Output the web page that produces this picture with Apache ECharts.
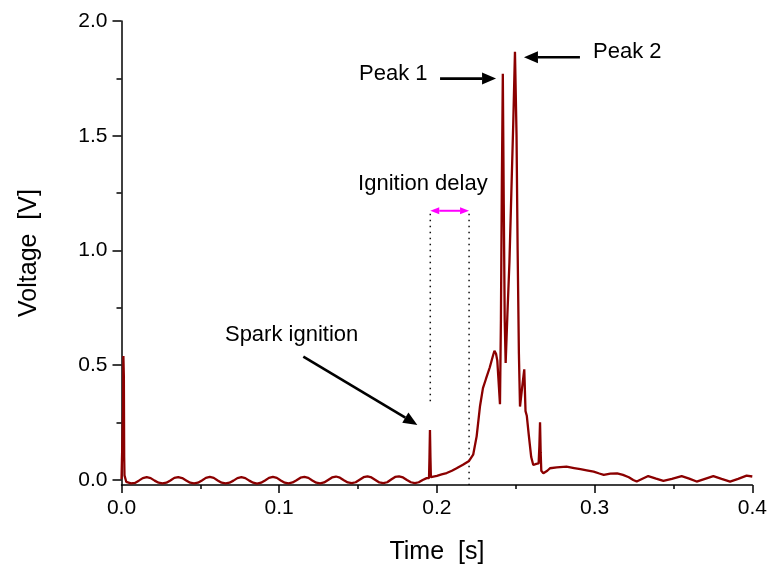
<!DOCTYPE html>
<html>
<head>
<meta charset="utf-8">
<script src="https://cdn.jsdelivr.net/npm/echarts@6/dist/echarts.min.js"></script>
<style>html,body{margin:0;padding:0;background:#fff;}#chart{width:768px;height:570px;}</style>
</head>
<body>
<div id="chart"></div>
<script>
// ---- data ----
const times = [
0.0000,0.0008,0.0010,0.0012,0.0015,0.0017,0.0019,0.0022,0.0030,0.0040,
0.0060,0.0085,0.0110,0.0135,0.0160,0.0185,0.0210,0.0235,0.0260,0.0285,
0.0310,0.0335,0.0360,0.0385,0.0410,0.0435,0.0460,0.0485,0.0510,0.0535,
0.0560,0.0585,0.0610,0.0635,0.0660,0.0685,0.0710,0.0735,0.0760,0.0785,
0.0810,0.0835,0.0860,0.0885,0.0910,0.0935,0.0960,0.0985,0.1010,0.1035,
0.1060,0.1085,0.1110,0.1135,0.1160,0.1185,0.1210,0.1235,0.1260,0.1285,
0.1310,0.1335,0.1360,0.1385,0.1410,0.1435,0.1460,0.1485,0.1510,0.1535,
0.1560,0.1585,0.1610,0.1635,0.1660,0.1685,0.1710,0.1735,0.1760,0.1785,
0.1810,0.1835,0.1860,0.1885,0.1910,0.1935,0.1950,0.1953,0.1956,0.1959,
0.1962,0.1970,0.2000,0.2030,0.2062,0.2095,0.2125,0.2165,0.2204,0.2230,
0.2252,0.2273,0.2292,0.2311,0.2335,0.2355,0.2365,0.2375,0.2383,0.2392,
0.2400,0.2406,0.2412,0.2418,0.2424,0.2430,0.2436,0.2447,0.2460,0.2472,
0.2484,0.2495,0.2505,0.2512,0.2520,0.2527,0.2540,0.2554,0.2562,0.2570,
0.2582,0.2598,0.2611,0.2630,0.2645,0.2650,0.2654,0.2658,0.2662,0.2675,
0.2700,0.2717,0.2760,0.2822,0.2870,0.2910,0.2950,0.2994,0.3030,0.3058,
0.3100,0.3143,0.3180,0.3217,0.3245,0.3267,0.3300,0.3340,0.3390,0.3436,
0.3490,0.3552,0.3600,0.3647,0.3700,0.3753,0.3805,0.3859,0.3910,0.3964,
0.4000];
const volts = [
0.003,0.005,0.300,0.540,0.450,0.100,0.020,0.015,-0.008,-0.014,
-0.015,-0.013,-0.003,0.008,0.012,0.008,-0.003,-0.012,-0.015,-0.012,
-0.002,0.009,0.012,0.008,-0.002,-0.012,-0.015,-0.012,-0.002,0.009,
0.013,0.009,-0.002,-0.012,-0.015,-0.012,-0.003,0.008,0.012,0.008,
-0.003,-0.012,-0.016,-0.012,-0.002,0.009,0.013,0.009,-0.002,-0.012,
-0.015,-0.011,-0.001,0.010,0.013,0.009,-0.002,-0.012,-0.015,-0.011,
0.000,0.011,0.015,0.010,-0.001,-0.011,-0.014,-0.010,0.001,0.012,
0.016,0.011,0.000,-0.011,-0.014,-0.010,0.002,0.013,0.016,0.011,
0.000,-0.010,-0.014,-0.010,0.000,0.008,0.008,0.100,0.218,0.100,
0.012,0.010,0.018,0.024,0.030,0.040,0.051,0.066,0.083,0.110,
0.190,0.320,0.400,0.440,0.490,0.540,0.563,0.550,0.520,0.420,
0.330,0.700,1.300,1.770,1.200,0.700,0.510,0.720,0.950,1.250,
1.550,1.866,1.500,1.000,0.550,0.320,0.400,0.482,0.300,0.280,
0.200,0.100,0.065,0.070,0.072,0.150,0.251,0.120,0.040,0.029,
0.040,0.051,0.055,0.058,0.052,0.047,0.042,0.036,0.028,0.022,
0.028,0.029,0.022,0.012,0.000,-0.007,0.004,0.017,0.006,-0.004,
0.005,0.017,0.006,-0.007,0.005,0.017,0.005,-0.007,0.005,0.019,
0.015];
const xTicks = [0.0, 0.1, 0.2, 0.3, 0.4];
const xMinorTicks = [0.05, 0.15, 0.25, 0.35];
const yTicks = [0.0, 0.5, 1.0, 1.5, 2.0];
const yMinorTicks = [0.25, 0.75, 1.25, 1.75];
const xTitle = 'Time  [s]';
const yTitle = 'Voltage  [V]';

// ---- annotations (data coordinates) ----
const annoTexts = [
  {text: 'Peak 1', at: [0.1506, 1.769]},
  {text: 'Peak 2', at: [0.2990, 1.865]},
  {text: 'Ignition delay', at: [0.1500, 1.290]},
  {text: 'Spark ignition', at: [0.0656, 0.632]}
];
const annoArrows = [
  {from: [0.2020, 1.749], to: [0.2375, 1.749]},
  {from: [0.2907, 1.842], to: [0.2552, 1.842]},
  {from: [0.1153, 0.537], to: [0.1876, 0.240]}
];
const delayBounds = [0.1958, 0.2204];
const delayArrowY = 1.173;
const delayLeftBottom = 0.335;

const FONT = '"Liberation Sans", Arial, sans-serif';
const chart = echarts.init(document.getElementById('chart'), null, {renderer: 'canvas'});
const data = times.map((t, i) => [t, volts[i]]);
const fmt = v => Number(v).toFixed(1);

chart.setOption({
  animation: false,
  backgroundColor: '#fff',
  grid: {left: 121.5, right: 15.7, top: 21, bottom: 85, containLabel: false, outerBoundsMode: 'none'},
  xAxis: [{
    type: 'value', min: 0, max: 0.4, interval: 0.1,
    name: xTitle, nameLocation: 'middle', nameGap: 55,
    nameTextStyle: {fontSize: 25, color: '#000', fontFamily: FONT},
    axisLine: {onZero: false, lineStyle: {color: '#000', width: 1.5}},
    axisTick: {length: 8, lineStyle: {color: '#000', width: 1.5}, customValues: xTicks},
    minorTick: {show: false},
    axisLabel: {fontSize: 21, color: '#000', fontFamily: FONT, margin: 13, formatter: fmt, customValues: xTicks},
    splitLine: {show: false}
  }, {
    type: 'value', min: 0, max: 0.4, position: 'bottom', offset: 0,
    axisLine: {show: false, onZero: false},
    axisTick: {length: 4, lineStyle: {color: '#000', width: 1.5}, customValues: xMinorTicks},
    axisLabel: {show: false}, splitLine: {show: false}
  }],
  yAxis: [{
    type: 'value', min: -0.022, max: 2.0, position: 'left',
    name: yTitle, nameLocation: 'middle', nameGap: 80,
    nameTextStyle: {fontSize: 25, color: '#000', fontFamily: FONT},
    axisLine: {onZero: false, lineStyle: {color: '#000', width: 1.5}},
    axisTick: {length: 9, lineStyle: {color: '#000', width: 1.5}, customValues: yTicks},
    axisLabel: {fontSize: 21, color: '#000', fontFamily: FONT, margin: 14, formatter: fmt, customValues: yTicks},
    splitLine: {show: false}
  }, {
    type: 'value', min: -0.022, max: 2.0, position: 'left', offset: 0,
    axisLine: {show: false},
    axisTick: {length: 5, lineStyle: {color: '#000', width: 1.5}, customValues: yMinorTicks},
    axisLabel: {show: false},
    splitLine: {show: false}
  }],
  series: [{
    type: 'line', data: data, xAxisIndex: 0, yAxisIndex: 0, showSymbol: false, symbol: 'none',
    lineStyle: {color: '#8B0000', width: 2.3}, itemStyle: {color: '#8B0000'},
    sampling: null, clip: false
  }, {
    type: 'line', data: [], xAxisIndex: 1, yAxisIndex: 1
  }]
});

function px(p) { return chart.convertToPixel({xAxisIndex: 0, yAxisIndex: 0}, p); }

function arrowGraphics(a, b, color, lw, headLen, headW, both) {
  const out = [];
  const dx = b[0] - a[0], dy = b[1] - a[1];
  const L = Math.sqrt(dx * dx + dy * dy);
  const ux = dx / L, uy = dy / L, nx = -uy, ny = ux;
  const s = both ? [a[0] + ux * headLen, a[1] + uy * headLen] : a;
  const e = [b[0] - ux * headLen, b[1] - uy * headLen];
  out.push({type: 'line', shape: {x1: s[0], y1: s[1], x2: e[0], y2: e[1]}, style: {stroke: color, lineWidth: lw}, silent: true});
  out.push({type: 'polygon', shape: {points: [[b[0], b[1]], [e[0] + nx * headW / 2, e[1] + ny * headW / 2], [e[0] - nx * headW / 2, e[1] - ny * headW / 2]]}, style: {fill: color}, silent: true});
  if (both) {
    out.push({type: 'polygon', shape: {points: [[a[0], a[1]], [s[0] + nx * headW / 2, s[1] + ny * headW / 2], [s[0] - nx * headW / 2, s[1] - ny * headW / 2]]}, style: {fill: color}, silent: true});
  }
  return out;
}

const g = [];
annoTexts.forEach(t => {
  const p = px(t.at);
  g.push({type: 'text', x: p[0], y: p[1], silent: true,
    style: {text: t.text, fill: '#000', font: '22px ' + FONT, textAlign: 'left', align: 'left', textVerticalAlign: 'middle', verticalAlign: 'middle'}});
});
annoArrows.forEach(a => {
  g.push(...arrowGraphics(px(a.from), px(a.to), '#000', 2.6, 14, 12, false));
});
// ignition delay dotted lines and magenta arrow
const pL1 = px([delayBounds[0], delayArrowY]), pL2 = px([delayBounds[0], delayLeftBottom]);
const pR1 = px([delayBounds[1], delayArrowY]), pR2 = px([delayBounds[1], -0.022]);
g.push({type: 'line', shape: {x1: pL1[0], y1: pL1[1] + 3, x2: pL2[0], y2: pL2[1]}, style: {stroke: '#111', lineWidth: 1.5, lineDash: [1.5, 4.5]}, silent: true});
g.push({type: 'line', shape: {x1: pR1[0], y1: pR1[1] + 3, x2: pR2[0], y2: pR2[1]}, style: {stroke: '#111', lineWidth: 1.5, lineDash: [1.5, 4.5]}, silent: true});
g.push(...arrowGraphics(pL1, pR1, '#FF00FF', 2, 9, 7, true));

chart.setOption({graphic: g});
</script>
</body>
</html>
